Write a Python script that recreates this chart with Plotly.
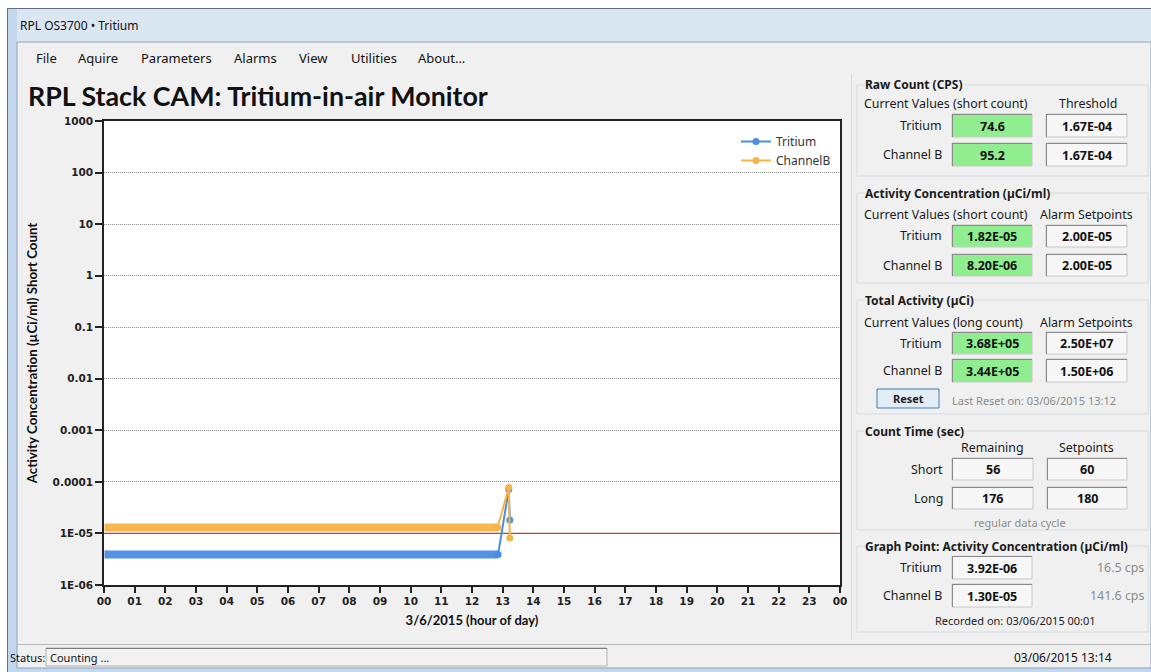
import plotly.graph_objects as go

# ---------------- data ----------------
DAY = "2015-03-06"
NEXT_DAY = "2015-03-07"
trit_times = ["00:01", "12:51", "13:12", "13:14"]
trit_vals = [3.92e-06, 3.92e-06, 7.2e-05, 1.82e-05]
chb_times = ["00:01", "12:50", "13:12", "13:14"]
chb_vals = [1.30e-05, 1.30e-05, 7.8e-05, 8.20e-06]
alarm_level = 1.0e-05

y_tickvals = [1e3, 1e2, 1e1, 1, 0.1, 0.01, 0.001, 0.0001, 1e-05, 1e-06]
y_ticktext = ["1000", "100", "10", "1", "0.1", "0.01", "0.001", "0.0001", "1E-05", "1E-06"]

menu_items = ["File", "Aquire", "Parameters", "Alarms", "View", "Utilities", "About..."]
channels = ["Tritium", "Channel B"]
raw_current = ["74.6", "95.2"]
raw_threshold = ["1.67E-04", "1.67E-04"]
conc_current = ["1.82E-05", "8.20E-06"]
conc_setpoints = ["2.00E-05", "2.00E-05"]
total_current = ["3.68E+05", "3.44E+05"]
total_setpoints = ["2.50E+07", "1.50E+06"]
count_rows = ["Short", "Long"]
count_remaining = ["56", "176"]
count_setpoints = ["60", "180"]
graph_point = ["3.92E-06", "1.30E-05"]
graph_cps = ["16.5 cps", "141.6 cps"]

BLUE = "#4a8de6"
ORANGE = "#f5b445"
RED = "#c93a3a"
BG = "#f0f0f0"
UI = "Noto Sans"

W, H = 1151, 672
PL, PR, PT, PB = 104, 840, 121, 585


def fx(x):
    return (x - PL) / (PR - PL)


def fy(y):
    return (PB - y) / (PB - PT)


def t(hm):
    return f"{DAY} {hm}"


shapes = []
annotations = []


def rect(x0, y0, x1, y1, fill=None, line=None, lw=1, layer="below"):
    shapes.append(dict(type="rect", xref="paper", yref="paper",
                       x0=fx(x0), x1=fx(x1), y0=fy(y1), y1=fy(y0),
                       fillcolor=fill if fill else "rgba(0,0,0,0)",
                       line=dict(color=line if line else "rgba(0,0,0,0)", width=lw if line else 0),
                       layer=layer))


def hline(x0, x1, y, color, lw=1):
    shapes.append(dict(type="line", xref="paper", yref="paper", x0=fx(x0), x1=fx(x1),
                       y0=fy(y), y1=fy(y), line=dict(color=color, width=lw), layer="below"))


def vline(x, y0, y1, color, lw=1):
    shapes.append(dict(type="line", xref="paper", yref="paper", x0=fx(x), x1=fx(x),
                       y0=fy(y0), y1=fy(y1), line=dict(color=color, width=lw), layer="below"))


def text(x, y, s, size=12.4, color="#1a1a1a", anchor="left", family=UI, bold=False, bg=None):
    annotations.append(dict(xref="paper", yref="paper", x=fx(x), y=fy(y),
                            text=f"<b>{s}</b>" if bold else s, showarrow=False,
                            xanchor=anchor, yanchor="middle",
                            font=dict(family=family, size=size, color=color),
                            bgcolor=bg, borderpad=0))


def field(x0, y0, x1, y1, value, green=False):
    rect(x0, y0, x1, y1, fill="#90ee90" if green else "#f7f7f7", line="#c8c8c8")
    hline(x0, x1, y0 + 0.5, "#8a8a8a")
    vline(x0 + 0.5, y0, y1, "#8a8a8a")
    text((x0 + x1) / 2, (y0 + y1) / 2 + 0.5, value, size=12.5, anchor="center", bold=True, color="#111")


def group(y0, y1, title):
    rect(857, y0, 1148, y1, line="#d5dcdf")
    text(864, y0, title, size=12, bold=True, bg=BG)


# ---------------- window chrome ----------------
rect(0, 0, W, 8, fill="#ffffff")
rect(0, 0, 7, H, fill="#ffffff")
rect(7, 8, W, 42, fill="#dbe6f3")
rect(7, 8, 17, H, fill="#c3d8ee")
rect(7, 668, W, H, fill="#c3d8ee")
vline(7.5, 8, H, "#5f6f80")
hline(7, W, 8.5, "#5f6f80")
rect(17, 42, W, 668, line="#8ea3b8")
text(19, 25, "RPL OS3700 • Tritium", size=12, color="#111")

menu_x = [35, 77, 140, 233, 298, 350, 417]
for mx, item in zip(menu_x, menu_items):
    text(mx, 58, item, size=13, color="#111")

text(27, 96, "RPL Stack CAM: Tritium-in-air Monitor", size=26.8, family="Lato", bold=True, color="#111")

# separator between chart and panel
vline(851.5, 74, 640, "#d9d9d9")

# ---------------- panels ----------------
group(85, 176, "Raw Count (CPS)")
text(863, 103, "Current Values (short count)")
text(1088, 103, "Threshold", anchor="center")
for i, (yy0, yy1) in enumerate([(114, 137), (143, 166)]):
    text(943, (yy0 + yy1) / 2, channels[i], anchor="right")
    field(952, yy0, 1032, yy1, raw_current[i], green=True)
    field(1046, yy0, 1127, yy1, raw_threshold[i])

group(193, 283, "Activity Concentration (µCi/ml)")
text(863, 214, "Current Values (short count)")
text(1086, 214, "Alarm Setpoints", anchor="center")
for i, (yy0, yy1) in enumerate([(225, 247), (254, 276)]):
    text(943, (yy0 + yy1) / 2, channels[i], anchor="right")
    field(952, yy0, 1032, yy1, conc_current[i], green=True)
    field(1046, yy0, 1127, yy1, conc_setpoints[i])

group(300, 414, "Total Activity (µCi)")
text(863, 322, "Current Values (long count)")
text(1086, 322, "Alarm Setpoints", anchor="center")
for i, (yy0, yy1) in enumerate([(332, 354), (359, 382)]):
    text(943, (yy0 + yy1) / 2, channels[i], anchor="right")
    field(952, yy0, 1032, yy1, total_current[i], green=True)
    field(1046, yy0, 1127, yy1, total_setpoints[i])
shapes.append(dict(type="rect", xref="paper", yref="paper", x0=fx(877), x1=fx(939),
                   y0=fy(408), y1=fy(389), fillcolor="#e3edf7",
                   line=dict(color="#3c7fb1", width=1), layer="below"))
text(908, 398.5, "Reset", size=11, anchor="center", bold=True, color="#222")
text(951, 400, "Last Reset on: 03/06/2015 13:12", size=11, color="#8a8a8a")

group(431, 530, "Count Time (sec)")
text(992, 448, "Remaining", anchor="center")
text(1086, 448, "Setpoints", anchor="center")
for i, (yy0, yy1) in enumerate([(458, 480), (487, 509)]):
    text(944, (yy0 + yy1) / 2, count_rows[i], anchor="right")
    field(952, yy0, 1033, yy1, count_remaining[i])
    field(1047, yy0, 1127, yy1, count_setpoints[i])
text(1020, 522, "regular data cycle", size=11, anchor="center", color="#8a8a8a")

group(546, 632, "Graph Point: Activity Concentration (µCi/ml)")
for i, (yy0, yy1) in enumerate([(556, 579), (584, 607)]):
    text(943, (yy0 + yy1) / 2, channels[i], anchor="right")
    field(952, yy0, 1032, yy1, graph_point[i])
    text(1145, (yy0 + yy1) / 2, graph_cps[i], anchor="right", color="#8a8a8a")
text(1015, 620, "Recorded on: 03/06/2015 00:01", size=11, anchor="center", color="#222")

# ---------------- status bar ----------------
hline(17, W, 644.5, "#b9b9b9")
rect(46, 648, 607, 666, fill="#f2f2f2", line="#b0b0b0")
hline(46, 607, 648.5, "#7d7d7d")
text(9, 657.5, "Status:", size=11, color="#111")
text(49, 657.5, "Counting ...", size=11, color="#111")
text(1063, 657.5, "03/06/2015 13:14", size=12, anchor="center", color="#111")

# ---------------- traces ----------------
fig = go.Figure()
fig.add_trace(go.Scatter(x=[t("00:00"), f"{NEXT_DAY} 00:00"], y=[alarm_level, alarm_level],
                         mode="lines", line=dict(color=RED, width=1.2),
                         showlegend=False, hoverinfo="skip"))
for times, vals, color, name in [(trit_times, trit_vals, BLUE, "Tritium"),
                                 (chb_times, chb_vals, ORANGE, "ChannelB")]:
    xs = [t(v) for v in times]
    fig.add_trace(go.Scatter(x=xs[:2], y=vals[:2], mode="lines",
                             line=dict(color=color, width=8), opacity=0.95,
                             showlegend=False, hoverinfo="skip"))
    fig.add_trace(go.Scatter(x=xs[1:], y=vals[1:], mode="lines+markers", name=name,
                             line=dict(color=color, width=2),
                             marker=dict(color=color, size=7)))

fig.update_layout(
    width=W, height=H,
    margin=dict(l=PL, r=W - PR, t=PT, b=H - PB, pad=0),
    paper_bgcolor=BG, plot_bgcolor="#ffffff",
    shapes=shapes, annotations=annotations,
    showlegend=True,
    legend=dict(x=fx(736), y=fy(127), xanchor="left", yanchor="top",
                bgcolor="rgba(0,0,0,0)", font=dict(family=UI, size=12, color="#333"),
                tracegroupgap=0, itemwidth=30),
    font=dict(family=UI),
)
fig.update_xaxes(
    type="date", range=[t("00:00"), f"{NEXT_DAY} 00:00"],
    dtick=3600000, tickformat="%H", tick0=t("00:00"),
    showgrid=False, showline=True, linecolor="#222", linewidth=1.5, mirror=True,
    ticks="outside", ticklen=6, tickcolor="#222", tickwidth=1.5,
    tickfont=dict(family="DejaVu Sans", size=10.5, color="#222", weight="bold"),
    title=dict(text="3/6/2015 (hour of day)", standoff=10,
               font=dict(family="Lato", size=13, color="#111", weight="bold")),
    zeroline=False,
)
fig.update_yaxes(
    type="log", range=[-6, 3],
    tickvals=y_tickvals, ticktext=y_ticktext,
    showgrid=True, gridcolor="#8c8c8c", griddash="1px,1px", gridwidth=1,
    showline=True, linecolor="#222", linewidth=1.5, mirror=True,
    ticks="outside", ticklen=7, tickcolor="#222", tickwidth=1.5,
    tickfont=dict(family="DejaVu Sans", size=10.5, color="#222", weight="bold"),
    title=dict(text="Activity Concentration (µCi/ml) Short Count", standoff=12,
               font=dict(family="Lato", size=13.3, color="#111", weight="bold")),
    zeroline=False,
)

fig.write_html("out.html", config={"displayModeBar": False},
               post_script="document.body.style.margin='0';")
